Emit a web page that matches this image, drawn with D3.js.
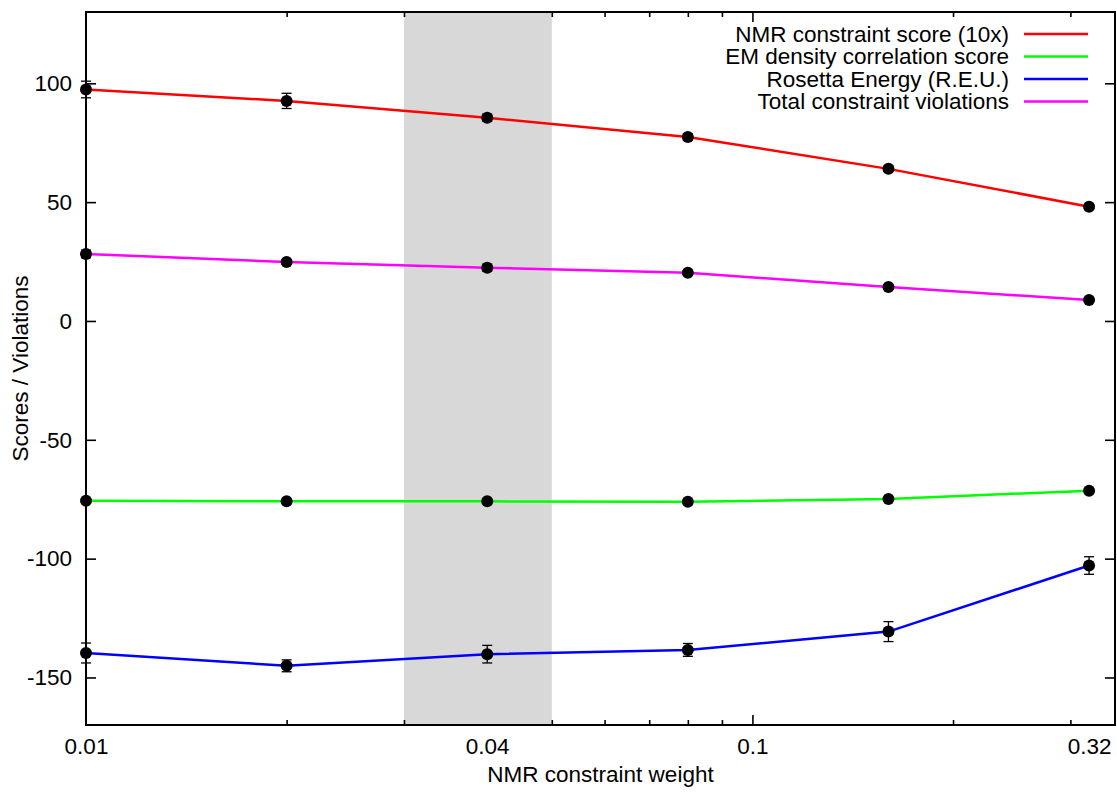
<!DOCTYPE html>
<html>
<head>
<meta charset="utf-8">
<script src="https://cdn.jsdelivr.net/npm/d3@7"></script>
<style>
  body { margin: 0; background: #fff; }
  text { font-family: "Liberation Sans", Arial, sans-serif; fill: #000; }
</style>
</head>
<body>
<svg width="1117" height="793"></svg>
<script>
var weights = [0.01, 0.02, 0.04, 0.08, 0.16, 0.32];

var nmrScore = [97.4, 92.6, 85.5, 77.4, 64.0, 48.1];
var nmrErr = [3.5, 3.2, 1.5, 1.4, 1.2, 1.0];
var emScore = [-75.6, -75.9, -75.9, -76.1, -74.9, -71.4];
var emErr = [0.5, 0.5, 0.5, 0.5, 0.5, 0.5];
var rosetta = [-139.7, -145.1, -140.2, -138.4, -130.7, -102.9];
var rosettaErr = [4.2, 2.5, 3.7, 2.7, 4.2, 3.7];
var violations = [28.2, 24.8, 22.4, 20.3, 14.3, 8.8];
var violationsErr = [1.6, 1.0, 1.5, 0.8, 0.8, 0.6];

var seriesNames = ["NMR constraint score (10x)", "EM density correlation score",
                   "Rosetta Energy (R.E.U.)", "Total constraint violations"];
var seriesColors = ["#ff0000", "#00ff00", "#0000ff", "#ff00ff"];

var xLabels = [0.01, 0.04, 0.1, 0.32];
var xMinor = [0.02, 0.03, 0.05, 0.06, 0.07, 0.08, 0.09, 0.2, 0.3];
var xMajor = [0.1];
var yTicks = [-150, -100, -50, 0, 50, 100];
var band = [0.03, 0.05];

var svg = d3.select("svg");

// note: "top" is taken by window.top, so use other names
var mLeft = 86, mRight = 1115, mTop = 12, mBottom = 725;

var x = d3.scaleLog().domain([0.01, 0.35]).range([mLeft, mRight]);
var y = d3.scaleLinear().domain([-170, 130]).range([mBottom, mTop]);

// shaded region of the chosen weights
svg.append("rect")
    .attr("x", x(band[0]))
    .attr("y", mTop)
    .attr("width", x(band[1]) - x(band[0]))
    .attr("height", mBottom - mTop)
    .attr("fill", "#d8d8d8");

function styleAxis(g) {
    g.select(".domain").remove();
    g.selectAll(".tick line").attr("stroke", "#000").attr("stroke-width", 1.6);
    g.selectAll(".tick text").attr("font-size", "22.5px").attr("font-family", "Liberation Sans, Arial, sans-serif");
}

// x ticks (pointing inward, top mirrored)
svg.append("g").attr("transform", "translate(0," + mBottom + ")")
    .call(d3.axisBottom(x).tickValues(xMinor).tickSize(-5).tickFormat(""))
    .call(styleAxis);
svg.append("g").attr("transform", "translate(0," + mBottom + ")")
    .call(d3.axisBottom(x).tickValues(xMajor).tickSize(-10).tickFormat(""))
    .call(styleAxis);
svg.append("g").attr("transform", "translate(0," + mTop + ")")
    .call(d3.axisTop(x).tickValues(xMinor).tickSize(-5).tickFormat(""))
    .call(styleAxis);
svg.append("g").attr("transform", "translate(0," + mTop + ")")
    .call(d3.axisTop(x).tickValues(xMajor).tickSize(-10).tickFormat(""))
    .call(styleAxis);
svg.append("g").attr("transform", "translate(0," + mBottom + ")")
    .call(d3.axisBottom(x).tickValues(xLabels).tickSize(0).tickPadding(13)
        .tickFormat(function(d) { return String(d); }))
    .call(styleAxis);

// y ticks (plain hyphen for negatives, like gnuplot)
svg.append("g").attr("transform", "translate(" + mLeft + ",0)")
    .call(d3.axisLeft(y).tickValues(yTicks).tickSize(-10).tickPadding(14)
        .tickFormat(function(d) { return String(d); }))
    .call(styleAxis);
svg.append("g").attr("transform", "translate(" + mRight + ",0)")
    .call(d3.axisRight(y).tickValues(yTicks).tickSize(-10).tickFormat(""))
    .call(styleAxis);

// frame
svg.append("rect")
    .attr("x", mLeft).attr("y", mTop)
    .attr("width", mRight - mLeft).attr("height", mBottom - mTop)
    .attr("fill", "none").attr("stroke", "#000").attr("stroke-width", 2);

// axis titles
svg.append("text")
    .attr("x", (mLeft + mRight) / 2).attr("y", 782)
    .attr("text-anchor", "middle").attr("font-size", "22.5px")
    .text("NMR constraint weight");
svg.append("text")
    .attr("transform", "translate(28," + (mTop + mBottom) / 2 + ") rotate(-90)")
    .attr("text-anchor", "middle").attr("font-size", "22.5px")
    .text("Scores / Violations");

var series = [
    { vals: nmrScore, errs: nmrErr },
    { vals: emScore, errs: emErr },
    { vals: rosetta, errs: rosettaErr },
    { vals: violations, errs: violationsErr }
];

var line = d3.line()
    .x(function(d) { return x(d.w); })
    .y(function(d) { return y(d.v); });

series.forEach(function(s, i) {
    var pts = weights.map(function(w, j) { return { w: w, v: s.vals[j], e: s.errs[j] }; });

    svg.append("path")
        .datum(pts)
        .attr("d", line)
        .attr("fill", "none")
        .attr("stroke", seriesColors[i])
        .attr("stroke-width", 2.5);

    var eb = svg.append("g").selectAll("g").data(pts).enter().append("g")
        .attr("stroke", "#000").attr("stroke-width", 1.3);
    eb.append("line")
        .attr("x1", function(d) { return x(d.w); })
        .attr("x2", function(d) { return x(d.w); })
        .attr("y1", function(d) { return y(d.v + d.e); })
        .attr("y2", function(d) { return y(d.v - d.e); });
    eb.append("line")
        .attr("x1", function(d) { return x(d.w) - 5; })
        .attr("x2", function(d) { return x(d.w) + 5; })
        .attr("y1", function(d) { return y(d.v + d.e); })
        .attr("y2", function(d) { return y(d.v + d.e); });
    eb.append("line")
        .attr("x1", function(d) { return x(d.w) - 5; })
        .attr("x2", function(d) { return x(d.w) + 5; })
        .attr("y1", function(d) { return y(d.v - d.e); })
        .attr("y2", function(d) { return y(d.v - d.e); });

    svg.append("g").selectAll("circle").data(pts).enter().append("circle")
        .attr("cx", function(d) { return x(d.w); })
        .attr("cy", function(d) { return y(d.v); })
        .attr("r", 6)
        .attr("fill", "#000");
});

// legend
var legend = svg.append("g").selectAll("g").data(seriesNames).enter().append("g")
    .attr("transform", function(d, i) { return "translate(0," + (34 + i * 22.5) + ")"; });
legend.append("text")
    .attr("x", 1009).attr("y", 7.5)
    .attr("text-anchor", "end").attr("font-size", "22.5px")
    .text(function(d) { return d; });
legend.append("line")
    .attr("x1", 1024).attr("x2", 1088)
    .attr("y1", 0).attr("y2", 0)
    .attr("stroke", function(d, i) { return seriesColors[i]; })
    .attr("stroke-width", 2.5);
</script>
</body>
</html>
